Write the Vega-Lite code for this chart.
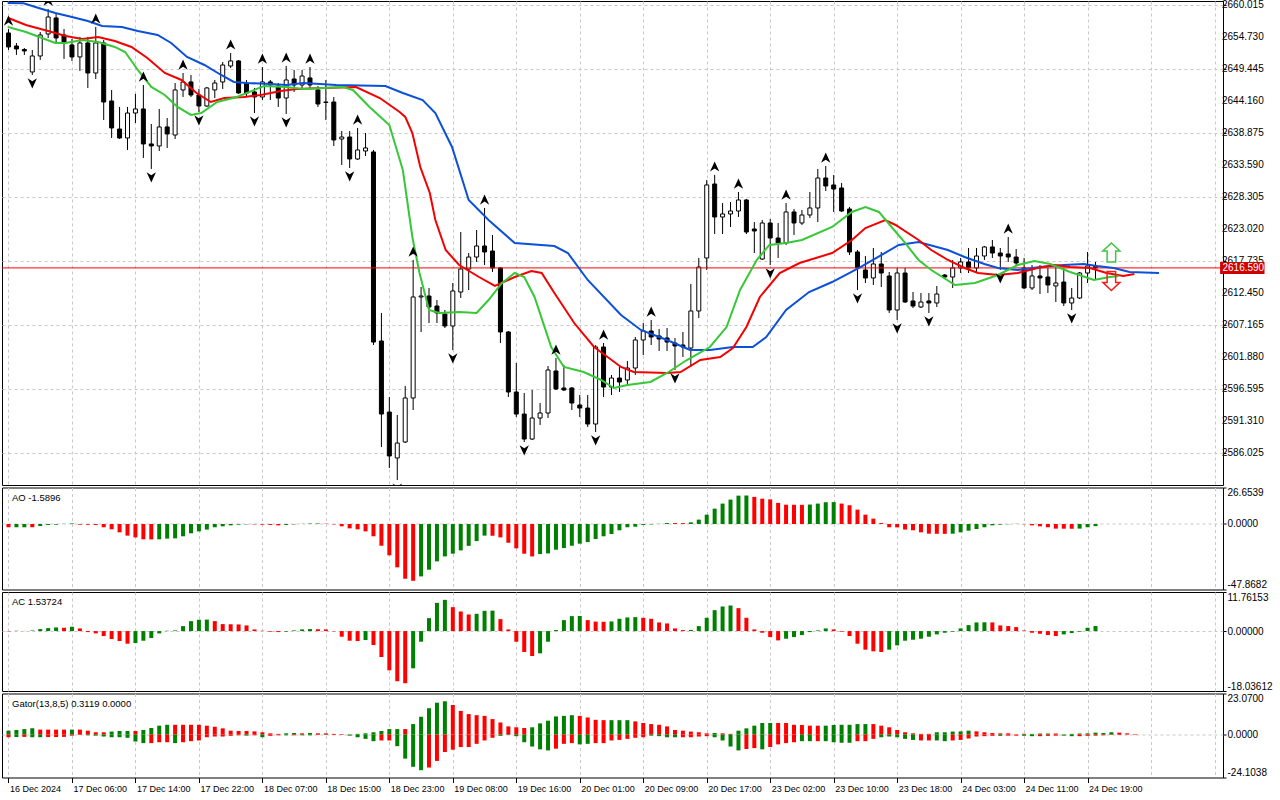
{
  "$schema": "https://vega.github.io/schema/vega-lite/v6.json",
  "background": "white",
  "padding": {"left": 1, "top": -2, "right": 0, "bottom": 0},
  "spacing": 0.5,
  "config": {
    "view": {"stroke": "black", "strokeWidth": 1},
    "font": "Liberation Sans",
    "axis": {"labelFont": "Liberation Sans", "labelColor": "black", "tickColor": "black", "gridColor": "#c8c8c8", "gridDash": [3, 3], "domain": false, "title": null, "labelOverlap": false}
  },
  "datasets": {
    "yl": [
      {"v":2660.015,"t":"2660.015"},{"v":2654.73,"t":"2654.730"},{"v":2649.445,"t":"2649.445"},{"v":2644.16,"t":"2644.160"},{"v":2638.875,"t":"2638.875"},{"v":2633.59,"t":"2633.590"},{"v":2628.305,"t":"2628.305"},{"v":2623.02,"t":"2623.020"},{"v":2617.735,"t":"2617.735"},{"v":2612.45,"t":"2612.450"},{"v":2607.165,"t":"2607.165"},{"v":2601.88,"t":"2601.880"},{"v":2596.595,"t":"2596.595"},{"v":2591.31,"t":"2591.310"},{"v":2586.025,"t":"2586.025"}
    ],
    "k": [
      {"i":0,"o":2655.39,"h":2656.05,"l":2652.58,"c":2653.08},{"i":1,"o":2653.24,"h":2653.74,"l":2651.76,"c":2652.75},{"i":2,"o":2652.66,"h":2652.91,"l":2651.76,"c":2652.42},{"i":3,"o":2648.95,"h":2652.58,"l":2648.45,"c":2651.59},{"i":4,"o":2651.59,"h":2655.55,"l":2650.93,"c":2655.06},{"i":5,"o":2655.22,"h":2659.35,"l":2654.56,"c":2658.03},{"i":6,"o":2657.87,"h":2658.69,"l":2653.74,"c":2654.56},{"i":7,"o":2655.06,"h":2656.05,"l":2651.10,"c":2653.74},{"i":8,"o":2653.41,"h":2654.40,"l":2650.77,"c":2651.43},{"i":9,"o":2651.43,"h":2654.73,"l":2649.11,"c":2653.74},
      {"i":10,"o":2653.74,"h":2654.73,"l":2646.31,"c":2648.78},{"i":11,"o":2648.78,"h":2656.38,"l":2647.79,"c":2653.74},{"i":12,"o":2653.74,"h":2654.23,"l":2641.02,"c":2643.99},{"i":13,"o":2644.16,"h":2645.98,"l":2638.05,"c":2639.70},{"i":14,"o":2639.53,"h":2643.17,"l":2637.88,"c":2638.05},{"i":15,"o":2638.05,"h":2643.17,"l":2636.07,"c":2642.17},{"i":16,"o":2642.17,"h":2645.32,"l":2640.53,"c":2642.84},{"i":17,"o":2642.84,"h":2646.80,"l":2634.75,"c":2637.06},{"i":18,"o":2637.06,"h":2640.36,"l":2632.93,"c":2636.73},{"i":19,"o":2636.73,"h":2642.84,"l":2635.90,"c":2639.87},
      {"i":20,"o":2639.87,"h":2641.35,"l":2636.40,"c":2638.71},{"i":21,"o":2638.54,"h":2647.13,"l":2637.88,"c":2645.98},{"i":22,"o":2645.98,"h":2648.78,"l":2644.82,"c":2647.30},{"i":23,"o":2647.30,"h":2648.45,"l":2644.82,"c":2645.15},{"i":24,"o":2645.15,"h":2646.14,"l":2642.34,"c":2643.33},{"i":25,"o":2643.33,"h":2646.47,"l":2643.17,"c":2646.31},{"i":26,"o":2645.98,"h":2647.63,"l":2644.65,"c":2647.13},{"i":27,"o":2647.30,"h":2650.60,"l":2646.14,"c":2650.10},{"i":28,"o":2649.94,"h":2652.09,"l":2649.61,"c":2650.77},{"i":29,"o":2650.77,"h":2650.93,"l":2645.32,"c":2645.48},
      {"i":30,"o":2647.13,"h":2647.63,"l":2644.99,"c":2645.48},{"i":31,"o":2645.65,"h":2646.31,"l":2642.17,"c":2644.82},{"i":32,"o":2644.82,"h":2649.77,"l":2644.32,"c":2647.30},{"i":33,"o":2647.30,"h":2647.63,"l":2644.32,"c":2646.80},{"i":34,"o":2646.64,"h":2647.13,"l":2643.17,"c":2644.65},{"i":35,"o":2644.65,"h":2649.94,"l":2642.01,"c":2647.63},{"i":36,"o":2647.79,"h":2649.28,"l":2645.65,"c":2646.80},{"i":37,"o":2646.80,"h":2649.28,"l":2645.98,"c":2648.28},{"i":38,"o":2647.96,"h":2649.77,"l":2646.31,"c":2646.80},{"i":39,"o":2645.98,"h":2646.64,"l":2643.17,"c":2643.66},
      {"i":40,"o":2643.99,"h":2647.63,"l":2641.02,"c":2643.91},{"i":41,"o":2643.99,"h":2644.82,"l":2636.73,"c":2637.72},{"i":42,"o":2637.88,"h":2639.20,"l":2633.59,"c":2638.21},{"i":43,"o":2638.21,"h":2639.20,"l":2633.09,"c":2634.58},{"i":44,"o":2634.58,"h":2639.70,"l":2634.41,"c":2636.07},{"i":45,"o":2635.90,"h":2638.87,"l":2635.08,"c":2636.40},{"i":46,"o":2635.74,"h":2636.07,"l":2603.86,"c":2604.35},{"i":47,"o":2604.52,"h":2609.15,"l":2587.01,"c":2592.46},{"i":48,"o":2592.79,"h":2595.27,"l":2583.55,"c":2585.53},{"i":49,"o":2585.20,"h":2592.30,"l":2581.56,"c":2587.67},
      {"i":50,"o":2587.84,"h":2597.09,"l":2587.67,"c":2595.11},{"i":51,"o":2595.11,"h":2617.90,"l":2593.12,"c":2611.79},{"i":52,"o":2611.79,"h":2613.44,"l":2606.01,"c":2611.95},{"i":53,"o":2611.95,"h":2613.28,"l":2607.49,"c":2610.14},{"i":54,"o":2610.30,"h":2611.29,"l":2607.49,"c":2609.15},{"i":55,"o":2608.98,"h":2609.64,"l":2606.66,"c":2607.00},{"i":56,"o":2607.00,"h":2614.10,"l":2603.03,"c":2612.78},{"i":57,"o":2612.61,"h":2622.52,"l":2611.62,"c":2616.41},{"i":58,"o":2616.41,"h":2619.05,"l":2612.94,"c":2618.39},{"i":59,"o":2618.39,"h":2622.85,"l":2617.57,"c":2620.21},
      {"i":60,"o":2620.21,"h":2626.49,"l":2617.07,"c":2619.22},{"i":61,"o":2619.38,"h":2622.03,"l":2615.92,"c":2616.58},{"i":62,"o":2616.58,"h":2616.74,"l":2604.19,"c":2606.01},{"i":63,"o":2606.01,"h":2606.17,"l":2595.27,"c":2596.10},{"i":64,"o":2596.10,"h":2600.89,"l":2591.97,"c":2592.46},{"i":65,"o":2592.46,"h":2595.93,"l":2587.84,"c":2588.33},{"i":66,"o":2588.33,"h":2596.43,"l":2588.17,"c":2591.80},{"i":67,"o":2591.80,"h":2594.28,"l":2590.65,"c":2592.63},{"i":68,"o":2592.63,"h":2600.39,"l":2591.80,"c":2599.73},{"i":69,"o":2599.57,"h":2601.71,"l":2596.43,"c":2596.59},
      {"i":70,"o":2596.76,"h":2600.56,"l":2596.26,"c":2596.43},{"i":71,"o":2596.76,"h":2596.92,"l":2593.12,"c":2594.28},{"i":72,"o":2593.95,"h":2595.60,"l":2591.97,"c":2593.45},{"i":73,"o":2593.45,"h":2595.60,"l":2590.32,"c":2590.81},{"i":74,"o":2590.81,"h":2603.86,"l":2589.49,"c":2603.53},{"i":75,"o":2603.53,"h":2604.19,"l":2595.27,"c":2596.92},{"i":76,"o":2596.92,"h":2598.91,"l":2595.60,"c":2598.41},{"i":77,"o":2598.41,"h":2600.23,"l":2596.10,"c":2597.75},{"i":78,"o":2598.08,"h":2601.22,"l":2597.25,"c":2600.06},{"i":79,"o":2600.06,"h":2605.18,"l":2598.91,"c":2604.69},
      {"i":80,"o":2604.69,"h":2607.49,"l":2602.21,"c":2606.17},{"i":81,"o":2606.17,"h":2607.99,"l":2603.86,"c":2605.18},{"i":82,"o":2605.35,"h":2606.50,"l":2602.87,"c":2604.85},{"i":83,"o":2605.02,"h":2606.66,"l":2602.87,"c":2604.35},{"i":84,"o":2604.19,"h":2605.02,"l":2599.73,"c":2603.70},{"i":85,"o":2603.86,"h":2606.01,"l":2601.88,"c":2603.53},{"i":86,"o":2603.36,"h":2613.93,"l":2600.23,"c":2609.48},{"i":87,"o":2609.48,"h":2618.23,"l":2608.32,"c":2616.74},{"i":88,"o":2618.23,"h":2631.11,"l":2616.25,"c":2630.29},{"i":89,"o":2630.45,"h":2631.94,"l":2622.19,"c":2625.00},
      {"i":90,"o":2625.00,"h":2627.31,"l":2622.19,"c":2625.50},{"i":91,"o":2625.50,"h":2627.48,"l":2623.35,"c":2625.99},{"i":92,"o":2625.99,"h":2629.13,"l":2625.00,"c":2627.81},{"i":93,"o":2627.81,"h":2627.97,"l":2622.19,"c":2622.52},{"i":94,"o":2623.02,"h":2624.17,"l":2619.05,"c":2622.69},{"i":95,"o":2618.06,"h":2624.50,"l":2617.90,"c":2624.01},{"i":96,"o":2624.01,"h":2624.67,"l":2617.07,"c":2621.53},{"i":97,"o":2621.53,"h":2624.01,"l":2618.23,"c":2620.71},{"i":98,"o":2620.71,"h":2627.31,"l":2620.38,"c":2625.83},{"i":99,"o":2625.83,"h":2626.32,"l":2622.03,"c":2624.01},
      {"i":100,"o":2624.01,"h":2626.16,"l":2623.68,"c":2625.33},{"i":101,"o":2625.33,"h":2629.13,"l":2624.84,"c":2626.49},{"i":102,"o":2626.49,"h":2632.93,"l":2624.17,"c":2631.44},{"i":103,"o":2631.44,"h":2633.42,"l":2629.29,"c":2630.12},{"i":104,"o":2630.29,"h":2631.94,"l":2625.83,"c":2629.62},{"i":105,"o":2629.79,"h":2630.62,"l":2625.83,"c":2625.99},{"i":106,"o":2626.32,"h":2626.65,"l":2618.72,"c":2619.22},{"i":107,"o":2619.22,"h":2619.55,"l":2612.94,"c":2616.58},{"i":108,"o":2616.25,"h":2618.56,"l":2614.10,"c":2614.93},{"i":109,"o":2614.93,"h":2619.88,"l":2613.77,"c":2617.24},
      {"i":110,"o":2617.24,"h":2619.22,"l":2613.44,"c":2615.75},{"i":111,"o":2615.26,"h":2615.92,"l":2609.15,"c":2609.64},{"i":112,"o":2609.64,"h":2616.58,"l":2607.99,"c":2615.75},{"i":113,"o":2615.75,"h":2616.58,"l":2610.80,"c":2610.96},{"i":114,"o":2611.13,"h":2612.61,"l":2609.97,"c":2610.30},{"i":115,"o":2610.14,"h":2612.45,"l":2609.97,"c":2610.96},{"i":116,"o":2611.13,"h":2612.45,"l":2609.15,"c":2610.80},{"i":117,"o":2610.80,"h":2613.61,"l":2610.14,"c":2612.28},{"i":118,"o":2615.42,"h":2615.59,"l":2614.93,"c":2615.09},{"i":119,"o":2615.09,"h":2617.90,"l":2613.28,"c":2616.58},
      {"i":120,"o":2616.58,"h":2618.23,"l":2615.75,"c":2617.57},{"i":121,"o":2617.57,"h":2619.88,"l":2615.75,"c":2616.58},{"i":122,"o":2616.58,"h":2619.88,"l":2615.75,"c":2618.56},{"i":123,"o":2618.56,"h":2620.21,"l":2617.90,"c":2620.05},{"i":124,"o":2620.05,"h":2621.20,"l":2618.23,"c":2619.05},{"i":125,"o":2619.05,"h":2619.88,"l":2616.25,"c":2618.56},{"i":126,"o":2618.89,"h":2621.70,"l":2617.57,"c":2618.39},{"i":127,"o":2618.39,"h":2619.71,"l":2616.91,"c":2617.40},{"i":128,"o":2616.58,"h":2618.23,"l":2613.11,"c":2613.28},{"i":129,"o":2613.28,"h":2617.07,"l":2612.94,"c":2615.26},
      {"i":130,"o":2615.26,"h":2617.07,"l":2612.28,"c":2614.93},{"i":131,"o":2615.09,"h":2616.58,"l":2612.45,"c":2613.77},{"i":132,"o":2613.61,"h":2616.74,"l":2610.96,"c":2614.10},{"i":133,"o":2614.26,"h":2616.58,"l":2610.30,"c":2610.80},{"i":134,"o":2610.80,"h":2613.28,"l":2609.64,"c":2611.62},{"i":135,"o":2611.62,"h":2615.92,"l":2611.46,"c":2615.75},{"i":136,"o":2615.75,"h":2619.22,"l":2614.10,"c":2616.91},{"i":137,"o":2616.82,"h":2617.57,"l":2614.60,"c":2616.59}
    ],
    "f": [
      {"i":0,"p":2656.05,"t":"u"},{"i":5,"p":2659.35,"t":"u"},{"i":11,"p":2656.38,"t":"u"},{"i":17,"p":2646.80,"t":"u"},{"i":22,"p":2648.78,"t":"u"},{"i":28,"p":2652.09,"t":"u"},{"i":32,"p":2649.77,"t":"u"},{"i":35,"p":2649.94,"t":"u"},{"i":38,"p":2649.77,"t":"u"},{"i":44,"p":2639.70,"t":"u"},{"i":51,"p":2617.90,"t":"u"},{"i":60,"p":2626.49,"t":"u"},{"i":69,"p":2601.71,"t":"u"},{"i":75,"p":2604.19,"t":"u"},{"i":81,"p":2607.99,"t":"u"},{"i":89,"p":2631.94,"t":"u"},{"i":92,"p":2629.13,"t":"u"},{"i":98,"p":2627.31,"t":"u"},{"i":103,"p":2633.42,"t":"u"},{"i":126,"p":2621.70,"t":"u"},
      {"i":3,"p":2648.45,"t":"d"},{"i":18,"p":2632.93,"t":"d"},{"i":24,"p":2642.34,"t":"d"},{"i":31,"p":2642.17,"t":"d"},{"i":35,"p":2642.01,"t":"d"},{"i":43,"p":2633.09,"t":"d"},{"i":49,"p":2581.56,"t":"d"},{"i":56,"p":2603.03,"t":"d"},{"i":65,"p":2587.84,"t":"d"},{"i":74,"p":2589.49,"t":"d"},{"i":84,"p":2599.73,"t":"d"},{"i":96,"p":2617.07,"t":"d"},{"i":107,"p":2612.94,"t":"d"},{"i":112,"p":2607.99,"t":"d"},{"i":116,"p":2609.15,"t":"d"},{"i":125,"p":2616.25,"t":"d"},{"i":134,"p":2609.64,"t":"d"}
    ],
    "jaw": [
      {"i":-0.1,"v":2660.34},{"i":1.9,"v":2660.3},{"i":3.8,"v":2659.52},{"i":5.9,"v":2658.69},{"i":8.0,"v":2658.03},{"i":10.0,"v":2657.37},{"i":11.8,"v":2656.55},{"i":14.3,"v":2656.38},{"i":16.3,"v":2655.72},{"i":18.8,"v":2655.06},{"i":20.5,"v":2653.74},{"i":22.5,"v":2651.43},{"i":24.7,"v":2650.10},{"i":26.8,"v":2648.45},{"i":28.4,"v":2647.30},{"i":30.0,"v":2647.13},{"i":33.0,"v":2646.97},{"i":35.0,"v":2646.80},{"i":37.2,"v":2647.13},{"i":41.3,"v":2646.80},{"i":47.5,"v":2646.64},{"i":49.7,"v":2645.48},{"i":52.2,"v":2644.32},{"i":53.8,"v":2642.17},{"i":55.9,"v":2636.56},{"i":58.0,"v":2627.81},{"i":60.5,"v":2624.50},{"i":63.8,"v":2620.71},{"i":68.8,"v":2620.21},{"i":70.5,"v":2619.05},{"i":73.0,"v":2614.60},{"i":77.2,"v":2608.81},{"i":79.7,"v":2606.34},{"i":83.0,"v":2604.69},{"i":85.9,"v":2603.03},{"i":88.4,"v":2603.03},{"i":91.3,"v":2603.53},{"i":93.8,"v":2603.53},{"i":95.5,"v":2605.18},{"i":98.0,"v":2609.64},{"i":100.9,"v":2612.61},{"i":103.8,"v":2614.26},{"i":107.2,"v":2616.58},{"i":110.0,"v":2618.72},{"i":112.2,"v":2620.38},{"i":114.7,"v":2620.87},{"i":118.4,"v":2619.55},{"i":120.5,"v":2618.39},{"i":123.0,"v":2617.24},{"i":124.7,"v":2616.58},{"i":127.2,"v":2616.25},{"i":130.0,"v":2616.74},{"i":133.0,"v":2617.07},{"i":135.5,"v":2617.24},{"i":137.2,"v":2616.91},{"i":139.3,"v":2616.58},{"i":141.3,"v":2615.92},{"i":145.0,"v":2615.75}
    ],
    "teeth": [
      {"i":-0.1,"v":2657.9},{"i":2.2,"v":2656.71},{"i":5.0,"v":2655.72},{"i":7.2,"v":2654.89},{"i":9.3,"v":2654.40},{"i":11.3,"v":2654.73},{"i":13.4,"v":2654.07},{"i":15.5,"v":2653.08},{"i":17.5,"v":2651.26},{"i":19.7,"v":2648.78},{"i":21.8,"v":2647.63},{"i":23.7,"v":2645.48},{"i":25.5,"v":2643.99},{"i":27.2,"v":2644.65},{"i":29.7,"v":2644.82},{"i":31.8,"v":2645.15},{"i":34.3,"v":2645.81},{"i":36.3,"v":2646.14},{"i":39.7,"v":2646.31},{"i":43.8,"v":2646.47},{"i":46.8,"v":2644.65},{"i":49.3,"v":2642.34},{"i":50.0,"v":2641.52},{"i":50.9,"v":2638.87},{"i":51.9,"v":2633.26},{"i":53.1,"v":2628.96},{"i":53.8,"v":2624.50},{"i":55.1,"v":2619.55},{"i":56.8,"v":2617.07},{"i":59.3,"v":2615.09},{"i":61.3,"v":2613.61},{"i":63.8,"v":2615.09},{"i":65.9,"v":2616.08},{"i":67.2,"v":2615.75},{"i":68.8,"v":2612.45},{"i":71.3,"v":2607.49},{"i":73.8,"v":2603.53},{"i":77.2,"v":2600.23},{"i":78.8,"v":2599.40},{"i":83.0,"v":2599.24},{"i":84.7,"v":2599.40},{"i":87.2,"v":2601.38},{"i":89.7,"v":2601.88},{"i":91.3,"v":2603.36},{"i":93.0,"v":2606.83},{"i":94.7,"v":2611.79},{"i":97.2,"v":2615.75},{"i":99.7,"v":2617.40},{"i":103.8,"v":2619.05},{"i":106.3,"v":2621.20},{"i":108.0,"v":2623.18},{"i":110.5,"v":2624.50},{"i":111.8,"v":2623.68},{"i":114.7,"v":2621.20},{"i":116.3,"v":2619.55},{"i":118.4,"v":2617.90},{"i":120.5,"v":2616.58},{"i":122.2,"v":2615.75},{"i":124.7,"v":2615.42},{"i":127.2,"v":2615.75},{"i":129.7,"v":2616.58},{"i":131.8,"v":2617.07},{"i":133.8,"v":2616.74},{"i":136.3,"v":2616.58},{"i":138.4,"v":2615.75},{"i":140.5,"v":2615.26},{"i":141.9,"v":2615.59}
    ],
    "lips": [
      {"i":-0.1,"v":2656.4},{"i":2.2,"v":2655.55},{"i":5.9,"v":2653.74},{"i":7.2,"v":2653.74},{"i":9.3,"v":2654.23},{"i":11.3,"v":2653.90},{"i":13.4,"v":2653.08},{"i":14.7,"v":2652.25},{"i":16.3,"v":2649.28},{"i":18.0,"v":2646.47},{"i":19.7,"v":2645.15},{"i":21.3,"v":2643.17},{"i":23.0,"v":2641.85},{"i":24.3,"v":2642.17},{"i":26.3,"v":2643.99},{"i":28.8,"v":2644.82},{"i":32.2,"v":2646.64},{"i":35.0,"v":2646.47},{"i":37.2,"v":2646.14},{"i":42.2,"v":2646.47},{"i":43.4,"v":2645.98},{"i":45.5,"v":2643.17},{"i":48.0,"v":2640.20},{"i":49.7,"v":2632.76},{"i":50.9,"v":2621.70},{"i":51.8,"v":2615.75},{"i":53.0,"v":2609.64},{"i":54.3,"v":2609.15},{"i":56.8,"v":2609.31},{"i":59.0,"v":2609.15},{"i":60.5,"v":2611.29},{"i":62.2,"v":2614.10},{"i":63.8,"v":2615.75},{"i":65.0,"v":2615.09},{"i":66.3,"v":2611.79},{"i":68.4,"v":2603.53},{"i":70.0,"v":2600.23},{"i":72.5,"v":2599.40},{"i":74.7,"v":2598.08},{"i":76.3,"v":2596.76},{"i":78.0,"v":2597.25},{"i":80.9,"v":2597.75},{"i":83.0,"v":2599.24},{"i":85.5,"v":2601.38},{"i":88.4,"v":2603.53},{"i":90.5,"v":2606.83},{"i":92.2,"v":2612.94},{"i":94.3,"v":2617.90},{"i":95.9,"v":2620.38},{"i":98.0,"v":2620.71},{"i":100.0,"v":2621.20},{"i":103.8,"v":2623.35},{"i":106.3,"v":2625.83},{"i":108.0,"v":2626.65},{"i":109.7,"v":2625.83},{"i":111.3,"v":2623.35},{"i":113.0,"v":2620.71},{"i":114.7,"v":2617.90},{"i":116.3,"v":2616.25},{"i":119.3,"v":2613.77},{"i":121.8,"v":2614.10},{"i":124.7,"v":2615.42},{"i":127.2,"v":2617.07},{"i":129.3,"v":2617.73},{"i":131.3,"v":2617.24},{"i":133.8,"v":2615.92},{"i":136.8,"v":2614.60},{"i":138.8,"v":2615.09},{"i":139.9,"v":2615.26}
    ],
    "sig": [{"i":139,"p":2619.14,"t":"buy"},{"i":139,"p":2614.43,"t":"sell"}],
    "px": [{"p":2616.59,"label":"2616.590"}],
    "ao": [
      {"i":0,"v":-2.4,"g":0},{"i":1,"v":-2.4,"g":1},{"i":2,"v":-2.4,"g":1},{"i":3,"v":-2.4,"g":0},{"i":4,"v":-1.5,"g":1},{"i":5,"v":-0.7,"g":1},{"i":6,"v":-0.5,"g":1},{"i":7,"v":0.1,"g":1},{"i":8,"v":0.4,"g":1},{"i":9,"v":-0.5,"g":0},
      {"i":10,"v":-0.55,"g":0},{"i":11,"v":-0.7,"g":0},{"i":12,"v":-2.4,"g":0},{"i":13,"v":-3.9,"g":0},{"i":14,"v":-6.1,"g":0},{"i":15,"v":-8.5,"g":0},{"i":16,"v":-9.8,"g":0},{"i":17,"v":-11.2,"g":0},{"i":18,"v":-11.3,"g":0},{"i":19,"v":-11.2,"g":1},
      {"i":20,"v":-10.7,"g":1},{"i":21,"v":-10.5,"g":1},{"i":22,"v":-9.0,"g":1},{"i":23,"v":-6.8,"g":1},{"i":24,"v":-5.4,"g":1},{"i":25,"v":-4.1,"g":1},{"i":26,"v":-2.4,"g":1},{"i":27,"v":-1.7,"g":1},{"i":28,"v":-1.0,"g":1},{"i":29,"v":-0.5,"g":1},
      {"i":30,"v":-0.25,"g":1},{"i":31,"v":-0.3,"g":0},{"i":32,"v":-0.5,"g":0},{"i":33,"v":-0.7,"g":0},{"i":34,"v":-1.0,"g":0},{"i":35,"v":-0.7,"g":1},{"i":36,"v":-0.3,"g":1},{"i":37,"v":0.1,"g":1},{"i":38,"v":0.3,"g":1},{"i":39,"v":0.35,"g":1},
      {"i":40,"v":0.2,"g":0},{"i":41,"v":-0.3,"g":0},{"i":42,"v":-1.7,"g":0},{"i":43,"v":-3.2,"g":0},{"i":44,"v":-3.9,"g":0},{"i":45,"v":-5.4,"g":0},{"i":46,"v":-9.0,"g":0},{"i":47,"v":-15.9,"g":0},{"i":48,"v":-22.9,"g":0},{"i":49,"v":-31.7,"g":0},
      {"i":50,"v":-40.0,"g":0},{"i":51,"v":-41.5,"g":0},{"i":52,"v":-38.3,"g":1},{"i":53,"v":-33.4,"g":1},{"i":54,"v":-27.3,"g":1},{"i":55,"v":-23.7,"g":1},{"i":56,"v":-21.7,"g":1},{"i":57,"v":-19.3,"g":1},{"i":58,"v":-16.0,"g":1},{"i":59,"v":-12.5,"g":1},
      {"i":60,"v":-8.5,"g":1},{"i":61,"v":-8.6,"g":0},{"i":62,"v":-9.8,"g":0},{"i":63,"v":-13.7,"g":0},{"i":64,"v":-17.8,"g":0},{"i":65,"v":-21.7,"g":0},{"i":66,"v":-23.7,"g":0},{"i":67,"v":-22.0,"g":1},{"i":68,"v":-21.5,"g":1},{"i":69,"v":-18.8,"g":1},
      {"i":70,"v":-17.6,"g":1},{"i":71,"v":-15.9,"g":1},{"i":72,"v":-14.4,"g":1},{"i":73,"v":-13.2,"g":1},{"i":74,"v":-11.0,"g":1},{"i":75,"v":-9.0,"g":1},{"i":76,"v":-7.3,"g":1},{"i":77,"v":-4.6,"g":1},{"i":78,"v":-2.4,"g":1},{"i":79,"v":-2.0,"g":1},
      {"i":80,"v":-0.7,"g":1},{"i":81,"v":-0.3,"g":1},{"i":82,"v":0.1,"g":1},{"i":83,"v":0.7,"g":1},{"i":84,"v":0.65,"g":0},{"i":85,"v":0.6,"g":0},{"i":86,"v":1.2,"g":1},{"i":87,"v":3.2,"g":1},{"i":88,"v":6.8,"g":1},{"i":89,"v":11.2,"g":1},
      {"i":90,"v":14.9,"g":1},{"i":91,"v":17.8,"g":1},{"i":92,"v":20.7,"g":1},{"i":93,"v":20.8,"g":1},{"i":94,"v":19.8,"g":0},{"i":95,"v":18.5,"g":0},{"i":96,"v":18.0,"g":0},{"i":97,"v":15.4,"g":0},{"i":98,"v":14.1,"g":0},{"i":99,"v":14.05,"g":0},
      {"i":100,"v":14.0,"g":0},{"i":101,"v":14.2,"g":1},{"i":102,"v":14.9,"g":1},{"i":103,"v":15.9,"g":1},{"i":104,"v":16.0,"g":1},{"i":105,"v":14.9,"g":0},{"i":106,"v":13.7,"g":0},{"i":107,"v":10.5,"g":0},{"i":108,"v":6.8,"g":0},{"i":109,"v":3.9,"g":0},
      {"i":110,"v":0.7,"g":0},{"i":111,"v":-2.4,"g":0},{"i":112,"v":-2.5,"g":0},{"i":113,"v":-4.1,"g":0},{"i":114,"v":-4.6,"g":0},{"i":115,"v":-6.1,"g":0},{"i":116,"v":-7.1,"g":0},{"i":117,"v":-7.15,"g":0},{"i":118,"v":-7.2,"g":0},{"i":119,"v":-7.1,"g":1},
      {"i":120,"v":-6.1,"g":1},{"i":121,"v":-4.9,"g":1},{"i":122,"v":-3.7,"g":1},{"i":123,"v":-2.4,"g":1},{"i":124,"v":-1.0,"g":1},{"i":125,"v":-0.5,"g":1},{"i":126,"v":-0.2,"g":1},{"i":127,"v":0.1,"g":1},{"i":128,"v":-0.2,"g":0},{"i":129,"v":-1.0,"g":0},
      {"i":130,"v":-1.7,"g":0},{"i":131,"v":-2.4,"g":0},{"i":132,"v":-3.4,"g":0},{"i":133,"v":-3.45,"g":0},{"i":134,"v":-3.5,"g":0},{"i":135,"v":-3.4,"g":1},{"i":136,"v":-2.4,"g":1},{"i":137,"v":-1.5896,"g":1}
    ],
    "ac": [
      {"i":0,"v":-0.1,"g":0},{"i":1,"v":0.1,"g":1},{"i":2,"v":0.05,"g":0},{"i":3,"v":0.2,"g":1},{"i":4,"v":0.6,"g":1},{"i":5,"v":0.9,"g":1},{"i":6,"v":1.1,"g":1},{"i":7,"v":1.0,"g":0},{"i":8,"v":1.3,"g":1},{"i":9,"v":0.8,"g":0},
      {"i":10,"v":-0.3,"g":0},{"i":11,"v":-0.7,"g":0},{"i":12,"v":-1.5,"g":0},{"i":13,"v":-2.4,"g":0},{"i":14,"v":-3.0,"g":0},{"i":15,"v":-3.8,"g":0},{"i":16,"v":-3.6,"g":1},{"i":17,"v":-2.9,"g":1},{"i":18,"v":-2.1,"g":1},{"i":19,"v":-0.7,"g":1},
      {"i":20,"v":0.1,"g":1},{"i":21,"v":0.2,"g":1},{"i":22,"v":1.5,"g":1},{"i":23,"v":3.0,"g":1},{"i":24,"v":3.4,"g":1},{"i":25,"v":3.45,"g":1},{"i":26,"v":3.0,"g":0},{"i":27,"v":2.1,"g":0},{"i":28,"v":2.05,"g":0},{"i":29,"v":2.0,"g":0},
      {"i":30,"v":1.7,"g":0},{"i":31,"v":0.5,"g":0},{"i":32,"v":0.1,"g":0},{"i":33,"v":-0.2,"g":0},{"i":34,"v":-0.3,"g":0},{"i":35,"v":-0.2,"g":1},{"i":36,"v":0.2,"g":1},{"i":37,"v":0.5,"g":1},{"i":38,"v":0.6,"g":1},{"i":39,"v":0.55,"g":0},
      {"i":40,"v":0.5,"g":0},{"i":41,"v":-0.1,"g":0},{"i":42,"v":-1.7,"g":0},{"i":43,"v":-2.9,"g":0},{"i":44,"v":-3.0,"g":0},{"i":45,"v":-2.7,"g":1},{"i":46,"v":-4.2,"g":0},{"i":47,"v":-7.8,"g":0},{"i":48,"v":-11.8,"g":0},{"i":49,"v":-15.1,"g":0},
      {"i":50,"v":-15.7,"g":0},{"i":51,"v":-11.2,"g":1},{"i":52,"v":-3.2,"g":1},{"i":53,"v":3.9,"g":1},{"i":54,"v":8.5,"g":1},{"i":55,"v":9.4,"g":1},{"i":56,"v":7.2,"g":0},{"i":57,"v":5.9,"g":0},{"i":58,"v":5.0,"g":0},{"i":59,"v":5.2,"g":1},
      {"i":60,"v":6.1,"g":1},{"i":61,"v":6.15,"g":1},{"i":62,"v":3.6,"g":0},{"i":63,"v":0.5,"g":0},{"i":64,"v":-3.2,"g":0},{"i":65,"v":-6.3,"g":0},{"i":66,"v":-7.5,"g":0},{"i":67,"v":-6.7,"g":1},{"i":68,"v":-3.2,"g":1},{"i":69,"v":0.3,"g":1},
      {"i":70,"v":3.3,"g":1},{"i":71,"v":4.5,"g":1},{"i":72,"v":4.55,"g":1},{"i":73,"v":3.3,"g":0},{"i":74,"v":2.85,"g":0},{"i":75,"v":2.8,"g":0},{"i":76,"v":2.9,"g":1},{"i":77,"v":3.7,"g":1},{"i":78,"v":4.1,"g":1},{"i":79,"v":4.2,"g":1},
      {"i":80,"v":4.0,"g":0},{"i":81,"v":3.7,"g":0},{"i":82,"v":2.6,"g":0},{"i":83,"v":2.3,"g":0},{"i":84,"v":0.8,"g":0},{"i":85,"v":0.3,"g":0},{"i":86,"v":0.35,"g":1},{"i":87,"v":1.5,"g":1},{"i":88,"v":4.0,"g":1},{"i":89,"v":6.3,"g":1},
      {"i":90,"v":7.4,"g":1},{"i":91,"v":7.7,"g":1},{"i":92,"v":6.9,"g":0},{"i":93,"v":4.0,"g":0},{"i":94,"v":0.5,"g":0},{"i":95,"v":-0.5,"g":0},{"i":96,"v":-1.8,"g":0},{"i":97,"v":-2.8,"g":0},{"i":98,"v":-2.3,"g":1},{"i":99,"v":-1.8,"g":1},
      {"i":100,"v":-1.2,"g":1},{"i":101,"v":-0.3,"g":1},{"i":102,"v":0.2,"g":1},{"i":103,"v":0.8,"g":1},{"i":104,"v":0.5,"g":0},{"i":105,"v":-0.2,"g":0},{"i":106,"v":-1.5,"g":0},{"i":107,"v":-3.8,"g":0},{"i":108,"v":-5.6,"g":0},{"i":109,"v":-6.1,"g":0},
      {"i":110,"v":-6.3,"g":0},{"i":111,"v":-5.6,"g":1},{"i":112,"v":-4.3,"g":1},{"i":113,"v":-2.9,"g":1},{"i":114,"v":-2.6,"g":1},{"i":115,"v":-2.3,"g":1},{"i":116,"v":-1.7,"g":1},{"i":117,"v":-1.0,"g":1},{"i":118,"v":-0.5,"g":1},{"i":119,"v":-0.2,"g":1},
      {"i":120,"v":0.8,"g":1},{"i":121,"v":1.8,"g":1},{"i":122,"v":2.6,"g":1},{"i":123,"v":2.65,"g":1},{"i":124,"v":2.6,"g":0},{"i":125,"v":1.7,"g":0},{"i":126,"v":1.5,"g":0},{"i":127,"v":1.2,"g":0},{"i":128,"v":0.2,"g":0},{"i":129,"v":-0.5,"g":0},
      {"i":130,"v":-0.8,"g":0},{"i":131,"v":-1.2,"g":0},{"i":132,"v":-1.5,"g":0},{"i":133,"v":-1.0,"g":1},{"i":134,"v":-0.6,"g":1},{"i":135,"v":-0.2,"g":1},{"i":136,"v":1.0,"g":1},{"i":137,"v":1.53724,"g":1}
    ],
    "gt": [
      {"i":0,"u":2.2,"ug":1,"d":-1.5,"dg":0},{"i":1,"u":2.6,"ug":1,"d":-1.3,"dg":1},{"i":2,"u":3.1,"ug":1,"d":-1.3,"dg":0},{"i":3,"u":3.5,"ug":1,"d":-1.5,"dg":1},{"i":4,"u":2.8,"ug":0,"d":-1.5,"dg":1},{"i":5,"u":2.8,"ug":0,"d":-1.4,"dg":0},{"i":6,"u":2.8,"ug":0,"d":-1.4,"dg":0},{"i":7,"u":2.8,"ug":0,"d":-1.3,"dg":0},{"i":8,"u":2.8,"ug":1,"d":-0.6,"dg":0},{"i":9,"u":2.8,"ug":0,"d":-0.2,"dg":0},
      {"i":10,"u":2.2,"ug":0,"d":-0.4,"dg":1},{"i":11,"u":1.3,"ug":0,"d":-0.6,"dg":1},{"i":12,"u":1.3,"ug":0,"d":-1.1,"dg":1},{"i":13,"u":1.7,"ug":1,"d":-1.5,"dg":1},{"i":14,"u":2.0,"ug":1,"d":-1.5,"dg":1},{"i":15,"u":2.0,"ug":1,"d":-1.8,"dg":1},{"i":16,"u":2.0,"ug":0,"d":-3.9,"dg":1},{"i":17,"u":2.6,"ug":1,"d":-4.8,"dg":1},{"i":18,"u":3.7,"ug":1,"d":-4.8,"dg":0},{"i":19,"u":5.0,"ug":1,"d":-4.3,"dg":0},
      {"i":20,"u":5.5,"ug":1,"d":-4.3,"dg":0},{"i":21,"u":5.5,"ug":0,"d":-4.8,"dg":1},{"i":22,"u":5.5,"ug":0,"d":-4.3,"dg":0},{"i":23,"u":5.5,"ug":0,"d":-3.7,"dg":0},{"i":24,"u":5.5,"ug":0,"d":-3.3,"dg":0},{"i":25,"u":5.0,"ug":0,"d":-1.5,"dg":0},{"i":26,"u":4.4,"ug":0,"d":-1.1,"dg":0},{"i":27,"u":3.5,"ug":0,"d":-1.1,"dg":0},{"i":28,"u":2.2,"ug":0,"d":-0.7,"dg":0},{"i":29,"u":2.0,"ug":0,"d":-0.4,"dg":0},
      {"i":30,"u":2.0,"ug":0,"d":-0.6,"dg":1},{"i":31,"u":1.8,"ug":0,"d":-0.4,"dg":0},{"i":32,"u":1.3,"ug":0,"d":-1.5,"dg":1},{"i":33,"u":0.7,"ug":0,"d":-0.7,"dg":0},{"i":34,"u":0.4,"ug":0,"d":-0.4,"dg":0},{"i":35,"u":0.7,"ug":1,"d":-0.4,"dg":1},{"i":36,"u":0.9,"ug":1,"d":-0.4,"dg":0},{"i":37,"u":0.7,"ug":0,"d":-0.4,"dg":1},{"i":38,"u":0.9,"ug":1,"d":-0.4,"dg":1},{"i":39,"u":0.7,"ug":0,"d":-0.2,"dg":0},
      {"i":40,"u":0.7,"ug":0,"d":-0.2,"dg":1},{"i":41,"u":0.4,"ug":0,"d":-0.2,"dg":0},{"i":42,"u":0.2,"ug":0,"d":-0.2,"dg":0},{"i":43,"u":0.1,"ug":0,"d":-0.6,"dg":1},{"i":44,"u":0.4,"ug":1,"d":-1.5,"dg":1},{"i":45,"u":0.7,"ug":1,"d":-2.4,"dg":1},{"i":46,"u":1.3,"ug":1,"d":-3.7,"dg":1},{"i":47,"u":2.0,"ug":1,"d":-3.3,"dg":0},{"i":48,"u":3.1,"ug":1,"d":-3.3,"dg":0},{"i":49,"u":3.1,"ug":1,"d":-6.5,"dg":1},
      {"i":50,"u":3.1,"ug":0,"d":-13.5,"dg":1},{"i":51,"u":5.9,"ug":1,"d":-18.1,"dg":1},{"i":52,"u":10.0,"ug":1,"d":-20.0,"dg":1},{"i":53,"u":14.8,"ug":1,"d":-18.5,"dg":0},{"i":54,"u":17.9,"ug":1,"d":-14.8,"dg":0},{"i":55,"u":18.7,"ug":1,"d":-9.8,"dg":0},{"i":56,"u":16.6,"ug":0,"d":-8.5,"dg":0},{"i":57,"u":13.3,"ug":0,"d":-7.0,"dg":0},{"i":58,"u":11.5,"ug":0,"d":-7.0,"dg":0},{"i":59,"u":10.9,"ug":0,"d":-5.2,"dg":0},
      {"i":60,"u":10.5,"ug":0,"d":-3.3,"dg":0},{"i":61,"u":8.7,"ug":0,"d":-1.8,"dg":0},{"i":62,"u":6.8,"ug":0,"d":-0.7,"dg":1},{"i":63,"u":4.6,"ug":0,"d":-0.2,"dg":1},{"i":64,"u":4.1,"ug":0,"d":-0.9,"dg":1},{"i":65,"u":3.7,"ug":0,"d":-4.3,"dg":1},{"i":66,"u":4.1,"ug":1,"d":-6.7,"dg":1},{"i":67,"u":6.3,"ug":1,"d":-8.3,"dg":1},{"i":68,"u":7.8,"ug":1,"d":-8.9,"dg":1},{"i":69,"u":10.2,"ug":1,"d":-7.9,"dg":0},
      {"i":70,"u":10.5,"ug":1,"d":-5.2,"dg":0},{"i":71,"u":10.9,"ug":1,"d":-4.8,"dg":0},{"i":72,"u":10.5,"ug":0,"d":-5.5,"dg":1},{"i":73,"u":9.6,"ug":0,"d":-5.2,"dg":1},{"i":74,"u":8.3,"ug":0,"d":-4.8,"dg":0},{"i":75,"u":8.1,"ug":0,"d":-4.8,"dg":0},{"i":76,"u":8.1,"ug":1,"d":-3.3,"dg":0},{"i":77,"u":8.1,"ug":1,"d":-3.0,"dg":0},{"i":78,"u":8.1,"ug":1,"d":-2.4,"dg":0},{"i":79,"u":7.4,"ug":0,"d":-1.8,"dg":0},
      {"i":80,"u":6.5,"ug":0,"d":-1.5,"dg":0},{"i":81,"u":5.9,"ug":0,"d":-0.6,"dg":1},{"i":82,"u":5.5,"ug":0,"d":-0.9,"dg":1},{"i":83,"u":4.6,"ug":0,"d":-1.5,"dg":1},{"i":84,"u":2.6,"ug":0,"d":-1.5,"dg":1},{"i":85,"u":2.2,"ug":0,"d":-1.5,"dg":0},{"i":86,"u":1.7,"ug":0,"d":-1.5,"dg":0},{"i":87,"u":1.3,"ug":0,"d":-1.1,"dg":0},{"i":88,"u":0.7,"ug":0,"d":-0.9,"dg":0},{"i":89,"u":0.9,"ug":1,"d":-1.5,"dg":1},
      {"i":90,"u":0.7,"ug":0,"d":-3.3,"dg":1},{"i":91,"u":0.4,"ug":0,"d":-6.7,"dg":1},{"i":92,"u":2.2,"ug":1,"d":-8.9,"dg":1},{"i":93,"u":3.5,"ug":1,"d":-8.1,"dg":0},{"i":94,"u":5.0,"ug":1,"d":-7.6,"dg":0},{"i":95,"u":6.5,"ug":1,"d":-8.3,"dg":1},{"i":96,"u":6.5,"ug":1,"d":-7.0,"dg":0},{"i":97,"u":6.5,"ug":0,"d":-5.5,"dg":0},{"i":98,"u":6.5,"ug":0,"d":-4.8,"dg":0},{"i":99,"u":5.5,"ug":0,"d":-4.3,"dg":0},
      {"i":100,"u":5.4,"ug":0,"d":-3.7,"dg":1},{"i":101,"u":5.0,"ug":0,"d":-3.7,"dg":1},{"i":102,"u":5.0,"ug":0,"d":-3.7,"dg":0},{"i":103,"u":5.0,"ug":1,"d":-3.7,"dg":1},{"i":104,"u":5.4,"ug":1,"d":-4.3,"dg":1},{"i":105,"u":5.5,"ug":1,"d":-4.6,"dg":1},{"i":106,"u":5.5,"ug":1,"d":-4.6,"dg":1},{"i":107,"u":5.9,"ug":1,"d":-3.7,"dg":0},{"i":108,"u":5.9,"ug":1,"d":-3.7,"dg":0},{"i":109,"u":5.9,"ug":0,"d":-2.4,"dg":0},
      {"i":110,"u":5.0,"ug":0,"d":-1.5,"dg":1},{"i":111,"u":4.1,"ug":0,"d":-1.1,"dg":1},{"i":112,"u":2.6,"ug":0,"d":-1.5,"dg":1},{"i":113,"u":1.3,"ug":0,"d":-2.4,"dg":1},{"i":114,"u":0.7,"ug":0,"d":-3.0,"dg":1},{"i":115,"u":0.4,"ug":0,"d":-3.3,"dg":0},{"i":116,"u":0.4,"ug":0,"d":-3.3,"dg":0},{"i":117,"u":1.3,"ug":1,"d":-3.3,"dg":1},{"i":118,"u":1.3,"ug":1,"d":-3.7,"dg":1},{"i":119,"u":1.7,"ug":1,"d":-3.3,"dg":0},
      {"i":120,"u":1.8,"ug":1,"d":-3.0,"dg":0},{"i":121,"u":2.2,"ug":1,"d":-2.2,"dg":0},{"i":122,"u":1.8,"ug":0,"d":-1.1,"dg":0},{"i":123,"u":1.3,"ug":0,"d":-0.9,"dg":0},{"i":124,"u":0.9,"ug":0,"d":-0.7,"dg":0},{"i":125,"u":0.7,"ug":0,"d":-0.7,"dg":1},{"i":126,"u":0.7,"ug":0,"d":-0.6,"dg":0},{"i":127,"u":0.1,"ug":0,"d":-0.6,"dg":0},{"i":128,"u":0.4,"ug":0,"d":-0.6,"dg":1},{"i":129,"u":0.4,"ug":1,"d":-0.9,"dg":1},
      {"i":130,"u":0.6,"ug":1,"d":-0.9,"dg":0},{"i":131,"u":0.6,"ug":1,"d":-0.7,"dg":0},{"i":132,"u":0.6,"ug":0,"d":-0.6,"dg":0},{"i":133,"u":0.1,"ug":0,"d":-0.6,"dg":1},{"i":134,"u":0.4,"ug":1,"d":-0.9,"dg":1},{"i":135,"u":0.6,"ug":1,"d":-0.9,"dg":0},{"i":136,"u":0.7,"ug":1,"d":-0.7,"dg":0},{"i":137,"u":1.1,"ug":1,"d":-0.6,"dg":0},{"i":138,"u":0.9,"ug":1,"d":-0.4,"dg":0},{"i":139,"u":1.3,"ug":1,"d":-0.2,"dg":0},
      {"i":140,"u":1.1,"ug":0,"d":-0.2,"dg":0},{"i":141,"u":0.7,"ug":0,"d":0,"dg":0},{"i":142,"u":0.3119,"ug":0,"d":0,"dg":0}
    ]
  },
  "vconcat": [
    {
      "width": 1221,
      "height": 484,
      "layer": [
        {
          "data": {"name": "k"},
          "mark": {"type": "rule", "color": "black", "strokeWidth": 1},
          "encoding": {
            "x": {"field": "i", "type": "quantitative", "scale": {"domain": [-0.1875, 152.4375], "nice": false, "zero": false},
              "axis": {"values": [0,4,8,12,16,20,24,28,32,36,40,44,48,52,56,60,64,68,72,76,80,84,88,92,96,100,104,108,112,116,120,124,128,132,136,140,144,148,152], "labels": false, "ticks": false, "grid": true, "minExtent": 0}},
            "y": {"field": "l", "type": "quantitative", "scale": {"domain": [2580.74, 2660.67], "nice": false, "zero": false},
              "axis": {"orient": "right", "values": [2660.015,2654.73,2649.445,2644.16,2638.875,2633.59,2628.305,2623.02,2617.735,2612.45,2607.165,2601.88,2596.595,2591.31,2586.025], "labels": false, "grid": true, "tickSize": 3}},
            "y2": {"field": "h"}
          }
        },
        {
          "data": {"name": "k"},
          "mark": {"type": "bar", "size": 4, "stroke": "black", "strokeWidth": 1},
          "encoding": {
            "x": {"field": "i", "type": "quantitative"},
            "y": {"field": "o", "type": "quantitative"},
            "y2": {"field": "c"},
            "fill": {"condition": {"test": "datum.c >= datum.o", "value": "white"}, "value": "black"}
          }
        },
        {
          "data": {"name": "px"},
          "mark": {"type": "rule", "color": "#ff0000", "strokeWidth": 1},
          "encoding": {"y": {"field": "p", "type": "quantitative"}}
        },
        {
          "data": {"name": "jaw"},
          "mark": {"type": "line", "color": "#0b50d8", "strokeWidth": 2},
          "encoding": {"x": {"field": "i", "type": "quantitative"}, "y": {"field": "v", "type": "quantitative"}}
        },
        {
          "data": {"name": "teeth"},
          "mark": {"type": "line", "color": "#f40000", "strokeWidth": 2},
          "encoding": {"x": {"field": "i", "type": "quantitative"}, "y": {"field": "v", "type": "quantitative"}}
        },
        {
          "data": {"name": "lips"},
          "mark": {"type": "line", "color": "#36c836", "strokeWidth": 2},
          "encoding": {"x": {"field": "i", "type": "quantitative"}, "y": {"field": "v", "type": "quantitative"}}
        },
        {
          "data": {"name": "f"},
          "transform": [{"filter": "datum.t == 'u'"}],
          "mark": {"type": "point", "shape": "M0,-1L0.85,0.85L0,0.3L-0.85,0.85Z", "filled": true, "color": "black", "size": 120, "yOffset": -8, "opacity": 1, "clip": true},
          "encoding": {"x": {"field": "i", "type": "quantitative"}, "y": {"field": "p", "type": "quantitative"}}
        },
        {
          "data": {"name": "f"},
          "transform": [{"filter": "datum.t == 'd'"}],
          "mark": {"type": "point", "shape": "M0,1L0.85,-0.85L0,-0.3L-0.85,-0.85Z", "filled": true, "color": "black", "size": 120, "yOffset": 8, "opacity": 1, "clip": true},
          "encoding": {"x": {"field": "i", "type": "quantitative"}, "y": {"field": "p", "type": "quantitative"}}
        },
        {
          "data": {"name": "sig"},
          "transform": [{"filter": "datum.t == 'buy'"}],
          "mark": {"type": "point", "shape": "M0,-1L0.9,-0.15L0.45,-0.15L0.45,1L-0.45,1L-0.45,-0.15L-0.9,-0.15Z", "filled": false, "stroke": "#3cc83c", "strokeWidth": 1.5, "size": 360, "opacity": 1},
          "encoding": {"x": {"field": "i", "type": "quantitative"}, "y": {"field": "p", "type": "quantitative"}}
        },
        {
          "data": {"name": "sig"},
          "transform": [{"filter": "datum.t == 'sell'"}],
          "mark": {"type": "point", "shape": "M0,1L0.9,0.15L0.45,0.15L0.45,-1L-0.45,-1L-0.45,0.15L-0.9,0.15Z", "filled": false, "stroke": "#f02020", "strokeWidth": 1.5, "size": 360, "opacity": 1},
          "encoding": {"x": {"field": "i", "type": "quantitative"}, "y": {"field": "p", "type": "quantitative"}}
        },
        {
          "data": {"name": "yl"},
          "mark": {"type": "text", "color": "black", "align": "left", "baseline": "middle", "dx": 4, "fontSize": 10, "font": "Liberation Sans"},
          "encoding": {"x": {"datum": 152.4375}, "y": {"field": "v", "type": "quantitative"}, "text": {"field": "t"}}
        },
        {
          "data": {"name": "px"},
          "mark": {"type": "rect", "color": "#d00000"},
          "encoding": {"x": {"datum": 152.7}, "x2": {"datum": 158.3}, "y": {"datum": 2617.58}, "y2": {"datum": 2615.6}}
        },
        {
          "data": {"name": "px"},
          "mark": {"type": "text", "color": "white", "align": "left", "baseline": "middle", "fontSize": 10, "font": "Liberation Sans"},
          "encoding": {"x": {"datum": 153.0}, "y": {"field": "p", "type": "quantitative"}, "text": {"field": "label"}}
        }
      ]
    },
    {
      "width": 1221,
      "height": 102,
      "layer": [
        {
          "data": {"name": "ao"},
          "mark": {"type": "bar", "size": 4},
          "encoding": {
            "x": {"field": "i", "type": "quantitative", "scale": {"domain": [-0.1875, 152.4375], "nice": false, "zero": false},
              "axis": {"values": [0,4,8,12,16,20,24,28,32,36,40,44,48,52,56,60,64,68,72,76,80,84,88,92,96,100,104,108,112,116,120,124,128,132,136,140,144,148,152], "labels": false, "ticks": false, "grid": true, "minExtent": 0}},
            "y": {"field": "v", "type": "quantitative", "scale": {"domain": [-47.8682, 26.6539], "nice": false, "zero": false},
              "axis": {"orient": "right", "values": [26.6539, 0, -47.8682], "labelExpr": "datum.value == 0 ? '0.0000' : (datum.value > 0 ? '26.6539' : '-47.8682')", "grid": true, "gridOpacity": {"condition": {"test": "datum.value == 0", "value": 1}, "value": 0}, "tickSize": 3, "labelPadding": 1, "labelFontSize": 10, "labelFlush": true, "labelOverlap": false}},
            "y2": {"datum": 0},
            "color": {"condition": {"test": "datum.g == 1", "value": "#008000"}, "value": "#ff0000"}
          }
        },
        {
          "data": {"values": [{"t": "AO -1.5896"}]},
          "mark": {"type": "text", "align": "left", "baseline": "top", "dx": 5, "dy": 5, "fontSize": 9.5, "font": "Liberation Sans", "color": "black"},
          "encoding": {"x": {"datum": -0.1875}, "y": {"datum": 26.6539}, "text": {"field": "t"}}
        }
      ]
    },
    {
      "width": 1221,
      "height": 99,
      "layer": [
        {
          "data": {"name": "ac"},
          "mark": {"type": "bar", "size": 4},
          "encoding": {
            "x": {"field": "i", "type": "quantitative", "scale": {"domain": [-0.1875, 152.4375], "nice": false, "zero": false},
              "axis": {"values": [0,4,8,12,16,20,24,28,32,36,40,44,48,52,56,60,64,68,72,76,80,84,88,92,96,100,104,108,112,116,120,124,128,132,136,140,144,148,152], "labels": false, "ticks": false, "grid": true, "minExtent": 0}},
            "y": {"field": "v", "type": "quantitative", "scale": {"domain": [-18.03612, 11.76153], "nice": false, "zero": false},
              "axis": {"orient": "right", "values": [11.76153, 0, -18.03612], "labelExpr": "datum.value == 0 ? '0.00000' : (datum.value > 0 ? '11.76153' : '-18.03612')", "grid": true, "gridOpacity": {"condition": {"test": "datum.value == 0", "value": 1}, "value": 0}, "tickSize": 3, "labelPadding": 1, "labelFontSize": 10, "labelFlush": true, "labelOverlap": false}},
            "y2": {"datum": 0},
            "color": {"condition": {"test": "datum.g == 1", "value": "#008000"}, "value": "#ff0000"}
          }
        },
        {
          "data": {"values": [{"t": "AC 1.53724"}]},
          "mark": {"type": "text", "align": "left", "baseline": "top", "dx": 5, "dy": 5, "fontSize": 9.5, "font": "Liberation Sans", "color": "black"},
          "encoding": {"x": {"datum": -0.1875}, "y": {"datum": 11.76153}, "text": {"field": "t"}}
        }
      ]
    },
    {
      "width": 1221,
      "height": 84,
      "layer": [
        {
          "data": {"name": "gt"},
          "mark": {"type": "bar", "size": 4},
          "encoding": {
            "x": {"field": "i", "type": "quantitative", "scale": {"domain": [-0.1875, 152.4375], "nice": false, "zero": false},
              "axis": {"values": [0,4,8,12,16,20,24,28,32,36,40,44,48,52,56,60,64,68,72,76,80,84,88,92,96,100,104,108,112,116,120,124,128,132,136,140,144,148,152], "grid": true, "minExtent": 0, "tickSize": 5, "tickOpacity": {"condition": {"test": "datum.value % 8 == 0 && datum.value <= 136", "value": 1}, "value": 0}, "labelExpr": "(datum.value % 8 == 0 && datum.value <= 136) ? ['16 Dec 2024','17 Dec 06:00','17 Dec 14:00','17 Dec 22:00','18 Dec 07:00','18 Dec 15:00','18 Dec 23:00','19 Dec 08:00','19 Dec 16:00','20 Dec 01:00','20 Dec 09:00','20 Dec 17:00','23 Dec 02:00','23 Dec 10:00','23 Dec 18:00','24 Dec 03:00','24 Dec 11:00','24 Dec 19:00'][datum.value / 8] : ''", "labelAlign": "left", "labelBaseline": "top", "labelPadding": 2, "labelOffset": 1, "labelFontSize": 9, "labelBound": false, "labelFlush": false}},
            "y": {"field": "u", "type": "quantitative", "scale": {"domain": [-24.1038, 23.07], "nice": false, "zero": false},
              "axis": {"orient": "right", "values": [23.07, 0, -24.1038], "labelExpr": "datum.value == 0 ? '0.0000' : (datum.value > 0 ? '23.0700' : '-24.1038')", "grid": true, "gridOpacity": {"condition": {"test": "datum.value == 0", "value": 1}, "value": 0}, "tickSize": 3, "labelPadding": 1, "labelFontSize": 10, "labelFlush": true, "labelOverlap": false}},
            "y2": {"datum": 0},
            "color": {"condition": {"test": "datum.ug == 1", "value": "#008000"}, "value": "#ff0000"}
          }
        },
        {
          "data": {"name": "gt"},
          "mark": {"type": "bar", "size": 4},
          "encoding": {
            "x": {"field": "i", "type": "quantitative"},
            "y": {"field": "d", "type": "quantitative"},
            "y2": {"datum": 0},
            "color": {"condition": {"test": "datum.dg == 1", "value": "#008000"}, "value": "#ff0000"}
          }
        },
        {
          "data": {"values": [{"t": "Gator(13,8,5) 0.3119 0.0000"}]},
          "mark": {"type": "text", "align": "left", "baseline": "top", "dx": 5, "dy": 5, "fontSize": 9.5, "font": "Liberation Sans", "color": "black"},
          "encoding": {"x": {"datum": -0.1875}, "y": {"datum": 23.07}, "text": {"field": "t"}}
        }
      ]
    }
  ]
}
